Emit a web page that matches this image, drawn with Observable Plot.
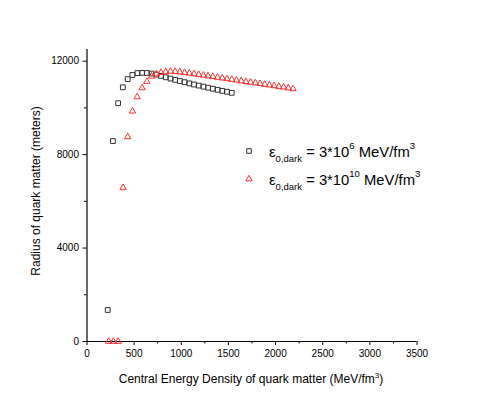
<!DOCTYPE html>
<html><head><meta charset="utf-8">
<script src="https://cdn.jsdelivr.net/npm/d3@7"></script>
<script src="https://cdn.jsdelivr.net/npm/@observablehq/plot@0.6"></script>
<style>body{margin:0;background:#fff} #chart{width:485px;height:409px}</style>
</head><body><div id="chart"></div>
<script>
// Series 1: epsilon_0,dark = 3*10^6 MeV/fm^3 (squares)
const sqX = [220, 275, 330, 380, 432, 482, 535, 585, 634, 684, 735, 785, 835, 885, 935, 985, 1035, 1085, 1135, 1185, 1235, 1285, 1335, 1385, 1435, 1485, 1535];
const sqY = [1350, 8580, 10200, 10880, 11230, 11410, 11490, 11500, 11495, 11470, 11425, 11370, 11310, 11255, 11200, 11150, 11100, 11050, 11000, 10955, 10910, 10865, 10820, 10775, 10730, 10690, 10645];
// Series 2: epsilon_0,dark = 3*10^10 MeV/fm^3 (triangles)
const triX = [230, 280, 330, 383, 432, 482, 532, 584, 635, 685, 735, 785, 835, 885, 935, 985, 1035, 1085, 1135, 1185, 1235, 1285, 1335, 1385, 1435, 1485, 1535, 1585, 1635, 1685, 1735, 1785, 1835, 1885, 1935, 1985, 2035, 2085, 2135, 2185];
const triY = [0, 0, 0, 6580, 8760, 9860, 10470, 10855, 11130, 11355, 11455, 11510, 11545, 11565, 11555, 11535, 11510, 11485, 11455, 11425, 11395, 11365, 11335, 11305, 11275, 11245, 11215, 11185, 11155, 11125, 11095, 11065, 11035, 11005, 10975, 10945, 10915, 10885, 10850, 10815];

const xTicks = [0, 500, 1000, 1500, 2000, 2500, 3000, 3500];
const xMinor = [250, 750, 1250, 1750, 2250, 2750, 3250];
const yTicks = [0, 4000, 8000, 12000];
const yMinor = [2000, 6000, 10000];

const xLabel = "Central Energy Density of quark matter (MeV/fm";
const yLabel = "Radius of quark matter (meters)";
const legendExp = ["6", "10"];

const squares = sqX.map((x, i) => ({x, y: sqY[i]}));
const triangles = triX.map((x, i) => ({x, y: triY[i]}));

const FONT = "'Liberation Sans', Arial, sans-serif";
const SQ_COLOR = "#333";
const TRI_COLOR = "#ff3030";

const plot = Plot.plot({
  width: 485, height: 409,
  marginLeft: 86.5, marginRight: 68.5, marginTop: 49, marginBottom: 68,
  style: {fontFamily: FONT, fontSize: "10px", background: "#fff", color: "#000", overflow: "visible"},
  x: {domain: [0, 3500]},
  y: {domain: [0, 12500]},
  marks: [
    Plot.axisX({ticks: xMinor, tickSize: 2.5, text: null, label: null, stroke: "#000"}),
    Plot.axisX({ticks: xTicks, tickSize: 4, tickPadding: 4, label: null, tickFormat: d => String(d), stroke: "#000", fill: "#000"}),
    Plot.axisY({ticks: yMinor, tickSize: 2.5, text: null, label: null, stroke: "#000"}),
    Plot.axisY({ticks: yTicks, tickSize: 4, tickPadding: 4, label: null, tickFormat: d => String(d), stroke: "#000", fill: "#000"}),
    Plot.ruleX([0], {stroke: "#000", strokeWidth: 1.2}),
    Plot.ruleY([0], {stroke: "#000", strokeWidth: 1.2}),
    Plot.dot(squares, {x: "x", y: "y", symbol: "square", r: 2.7, stroke: SQ_COLOR, strokeWidth: 1, fill: "none"}),
    Plot.dot(triangles, {x: "x", y: "y", symbol: "triangle", r: 2.4, stroke: TRI_COLOR, strokeWidth: 1, fill: "none"})
  ]
});
document.getElementById("chart").appendChild(plot);

const svg = d3.select(plot);
// axis titles
const xt = svg.append("text").attr("x", 251).attr("y", 383).attr("text-anchor", "middle")
  .attr("font-family", FONT).attr("font-size", 12).attr("fill", "#000");
xt.append("tspan").text(xLabel);
xt.append("tspan").attr("dy", -5).attr("font-size", 8).text("3");
xt.append("tspan").attr("dy", 5).text(")");

svg.append("text").attr("transform", "translate(40,191) rotate(-90)").attr("text-anchor", "middle")
  .attr("font-family", FONT).attr("font-size", 12).attr("fill", "#000").text(yLabel);

// legend
const legendRows = [
  {sym: d3.symbolSquare, r: 2.6, color: SQ_COLOR, exp: legendExp[0], y: 157},
  {sym: d3.symbolTriangle, r: 2.4, color: TRI_COLOR, exp: legendExp[1], y: 185}
];
legendRows.forEach(row => {
  svg.append("path")
    .attr("d", d3.symbol(row.sym, Math.PI * row.r * row.r)())
    .attr("transform", `translate(249,${row.y - 6})`)
    .attr("fill", "none").attr("stroke", row.color).attr("stroke-width", 1);
  const t = svg.append("text").attr("x", 269).attr("y", row.y).attr("text-anchor", "start")
    .attr("font-family", FONT).attr("font-size", 14.8).attr("fill", "#000");
  t.append("tspan").text("ε");
  t.append("tspan").attr("dy", 5).attr("font-size", 9.5).text("0,dark");
  t.append("tspan").attr("dy", -5).text(" = 3*10");
  t.append("tspan").attr("dy", -8).attr("font-size", 9.5).text(row.exp);
  t.append("tspan").attr("dy", 8).text(" MeV/fm");
  t.append("tspan").attr("dy", -8).attr("font-size", 9.5).text("3");
});
</script>
</body></html>
